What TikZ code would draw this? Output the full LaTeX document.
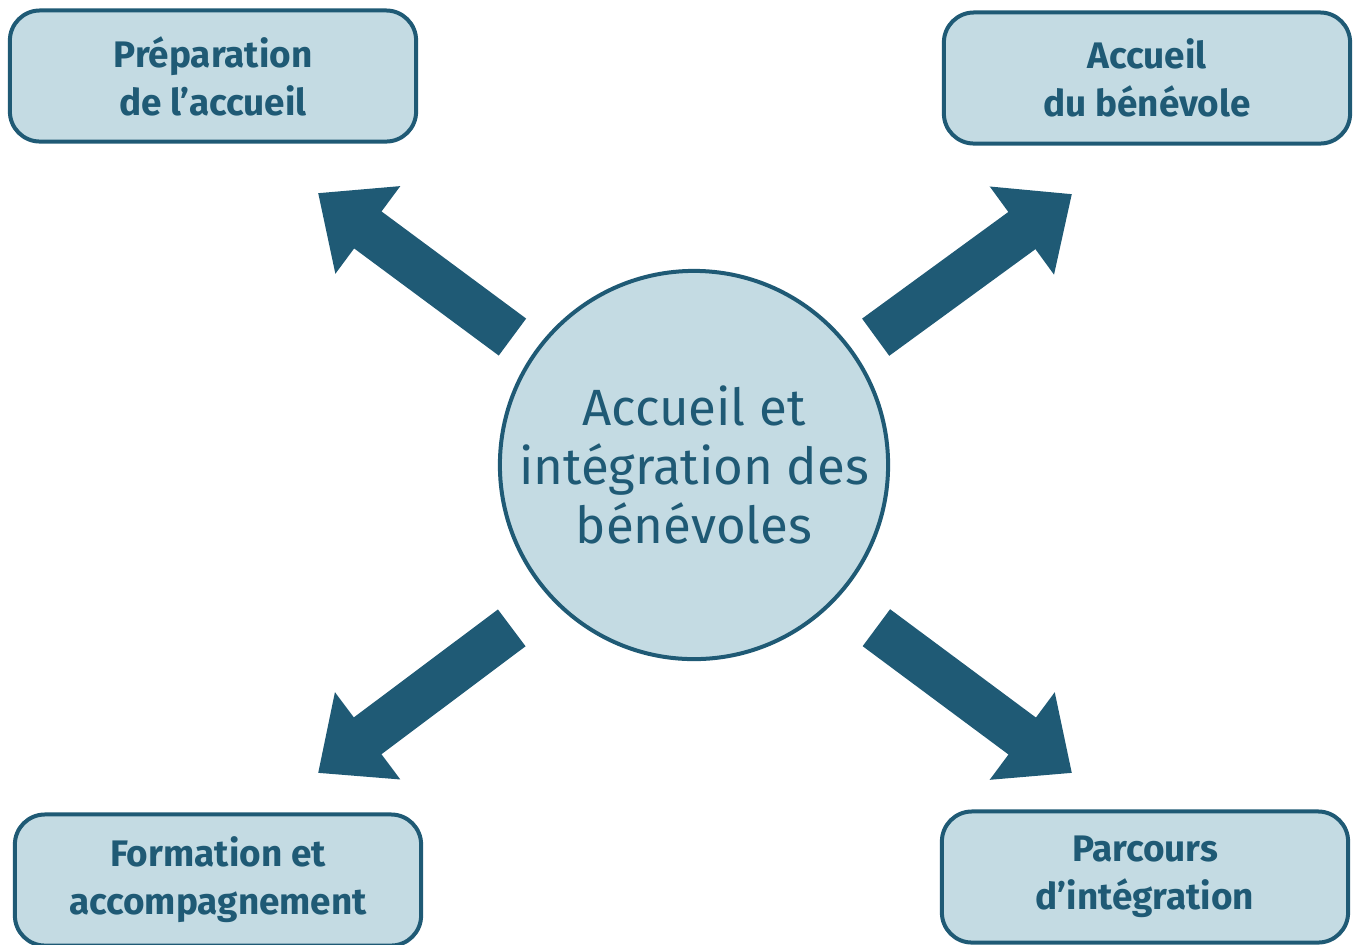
\documentclass[tikz,border=0pt]{standalone}
\usepackage{fontspec}
\setmainfont{Fira Sans}
\usetikzlibrary{arrows.meta}

\definecolor{darkteal}{HTML}{1F5A75}
\definecolor{paleblue}{HTML}{C4DBE3}

\tikzset{
	box/.style={draw=darkteal, fill=paleblue, line width=0.04cm, rounded corners=0.3cm,
		minimum width=4.06cm, minimum height=1.31cm, align=center, text=darkteal,
		font=\fontsize{10.5}{13.7}\selectfont\bfseries},
	hub/.style={draw=darkteal, fill=paleblue, line width=0.04cm, circle, inner sep=0pt,
		minimum size=3.88cm, align=center, text=darkteal,
		font=\fontsize{14.5}{16.8}\selectfont},
	bigarrow/.style={draw=darkteal, line width=0.46cm, shorten <=#1,
		-{Triangle[length=0.62cm, width=1.05cm]}},
	bigarrow/.default=0.26cm
}

\begin{document}
\begin{tikzpicture}[x=0.01cm, y=-0.01cm]
	\useasboundingbox (0,0) rectangle (1360,944);
	
	% Draw nodes
	\node[hub] (centre) at (694,465) {Accueil et\\intégration des\\bénévoles};
	\node[box] (prep) at (213,76) {Préparation\\de l’accueil};
	\node[box] (accueil) at (1147,78) {Accueil\\du bénévole};
	\node[box] (form) at (218,880) {Formation et\\accompagnement};
	\node[box] (parc) at (1145,877) {Parcours\\d’intégration};
	
	% Arrow tips
	\coordinate (tipA) at (318,193);
	\coordinate (tipB) at (1072,194);
	\coordinate (tipC) at (318,773);
	\coordinate (tipD) at (1072,773);
	
	% Draw arrows out of the centre
	\draw[bigarrow] (centre.145) -- (tipA);
	\draw[bigarrow] (centre.35) -- (tipB);
	\draw[bigarrow=0.485cm] (centre.223) -- (tipC);
	\draw[bigarrow=0.485cm] (centre.317) -- (tipD);
	
\end{tikzpicture}
\end{document}
